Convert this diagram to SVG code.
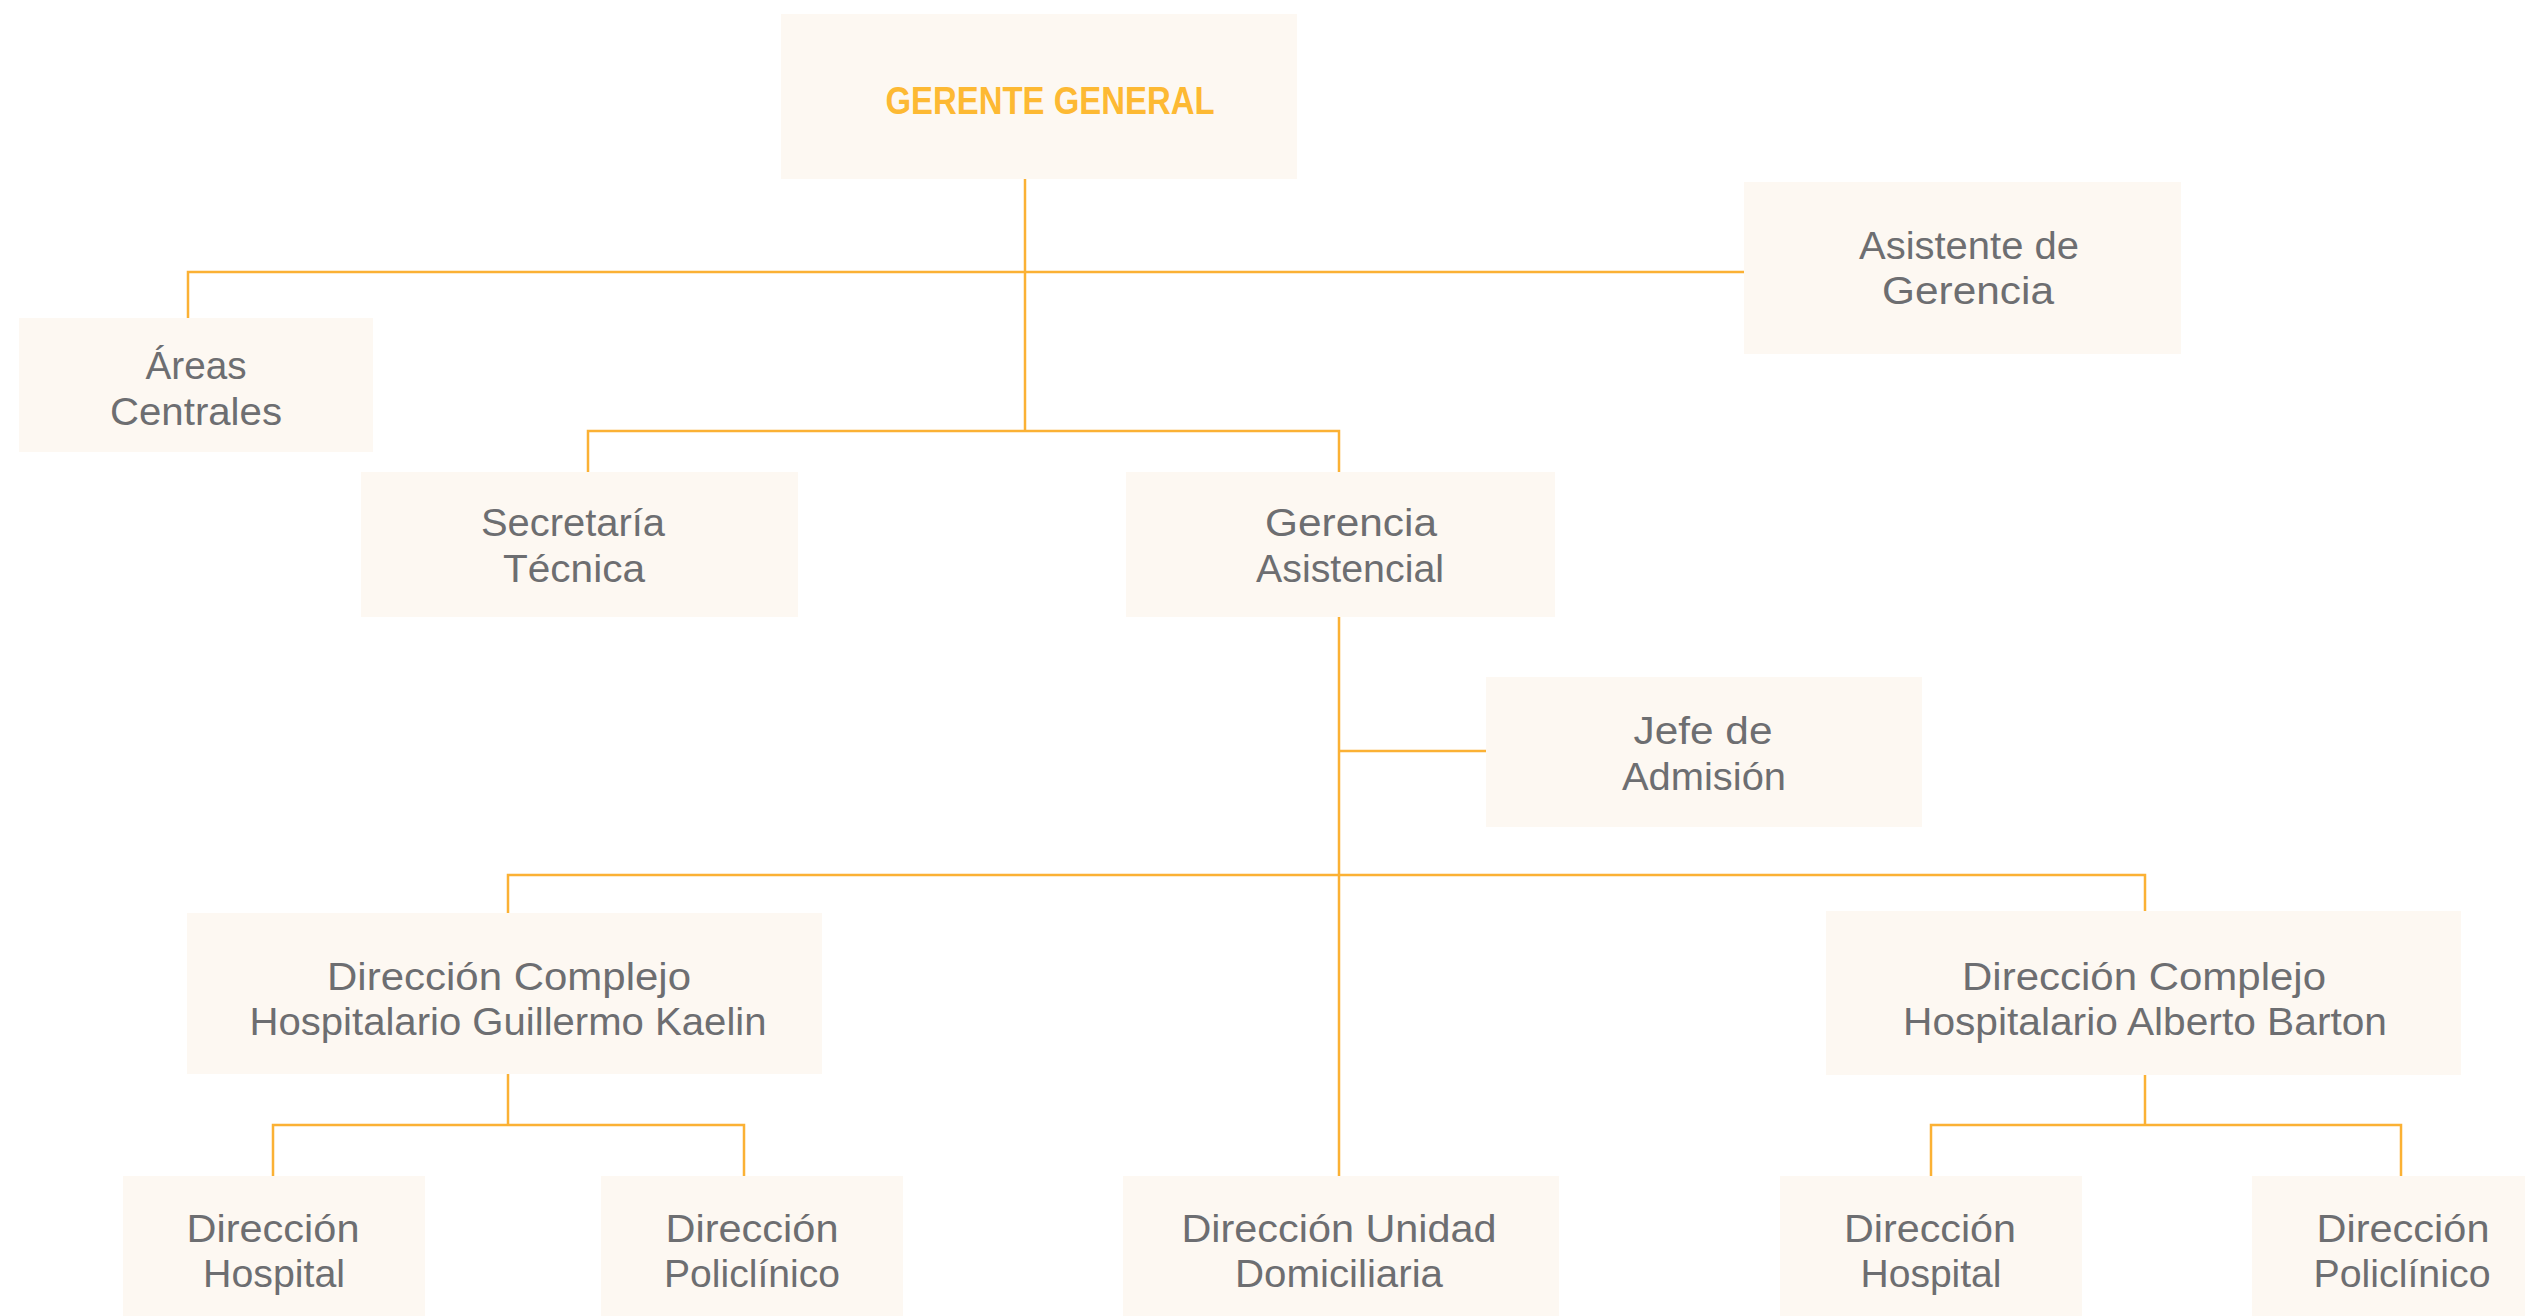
<svg xmlns="http://www.w3.org/2000/svg" width="2525" height="1316" viewBox="0 0 2525 1316">
<style>
.box{fill:#fdf8f2}
.t{font-family:"Century Gothic","Liberation Sans",Arial,sans-serif;font-size:38px;fill:#6d6e71;text-anchor:middle}
.title{font-family:"Century Gothic","Liberation Sans",Arial,sans-serif;font-size:38px;font-weight:bold;fill:#fdb933;text-anchor:middle}
.c{stroke:#fbb134;stroke-width:2.5;fill:none}
</style>
<rect width="2525" height="1316" fill="#ffffff"/>
<g id="connectors" class="c">
<path d="M1025 179V431"/>
<path d="M188 318V272H1744"/>
<path d="M588 472V431H1339V472"/>
<path d="M1339 617V1176"/>
<path d="M1339 751H1486"/>
<path d="M508 913V875H2145V911"/>
<path d="M508 1074V1125"/>
<path d="M273 1176V1125H744V1176"/>
<path d="M2145 1075V1125"/>
<path d="M1931 1176V1125H2401V1176"/>
</g>
<g id="gerente-general">
<rect class="box" x="781" y="14" width="516" height="165"/>
<text class="title" x="1050" y="114" textLength="329" lengthAdjust="spacingAndGlyphs">GERENTE GENERAL</text>
</g>
<g id="areas-centrales">
<rect class="box" x="19" y="318" width="354" height="134"/>
<text class="t" x="196" y="379" textLength="101" lengthAdjust="spacingAndGlyphs">Áreas</text>
<text class="t" x="196" y="425" textLength="172" lengthAdjust="spacingAndGlyphs">Centrales</text>
</g>
<g id="asistente-gerencia">
<rect class="box" x="1744" y="182" width="437" height="172"/>
<text class="t" x="1969" y="259" textLength="220" lengthAdjust="spacingAndGlyphs">Asistente de</text>
<text class="t" x="1968" y="304" textLength="172" lengthAdjust="spacingAndGlyphs">Gerencia</text>
</g>
<g id="secretaria-tecnica">
<rect class="box" x="361" y="472" width="437" height="145"/>
<text class="t" x="573" y="536" textLength="184" lengthAdjust="spacingAndGlyphs">Secretaría</text>
<text class="t" x="574" y="582" textLength="142" lengthAdjust="spacingAndGlyphs">Técnica</text>
</g>
<g id="gerencia-asistencial">
<rect class="box" x="1126" y="472" width="429" height="145"/>
<text class="t" x="1351" y="536" textLength="172" lengthAdjust="spacingAndGlyphs">Gerencia</text>
<text class="t" x="1350" y="582" textLength="188" lengthAdjust="spacingAndGlyphs">Asistencial</text>
</g>
<g id="jefe-admision">
<rect class="box" x="1486" y="677" width="436" height="150"/>
<text class="t" x="1703" y="744" textLength="139" lengthAdjust="spacingAndGlyphs">Jefe de</text>
<text class="t" x="1704" y="790" textLength="164" lengthAdjust="spacingAndGlyphs">Admisión</text>
</g>
<g id="complejo-kaelin">
<rect class="box" x="187" y="913" width="635" height="161"/>
<text class="t" x="509" y="990" textLength="364" lengthAdjust="spacingAndGlyphs">Dirección Complejo</text>
<text class="t" x="508" y="1035" textLength="517" lengthAdjust="spacingAndGlyphs">Hospitalario Guillermo Kaelin</text>
</g>
<g id="complejo-barton">
<rect class="box" x="1826" y="911" width="635" height="164"/>
<text class="t" x="2144" y="990" textLength="364" lengthAdjust="spacingAndGlyphs">Dirección Complejo</text>
<text class="t" x="2145" y="1035" textLength="484" lengthAdjust="spacingAndGlyphs">Hospitalario Alberto Barton</text>
</g>
<g id="hospital-kaelin">
<rect class="box" x="123" y="1176" width="302" height="140"/>
<text class="t" x="273" y="1242" textLength="173" lengthAdjust="spacingAndGlyphs">Dirección</text>
<text class="t" x="274" y="1287" textLength="142" lengthAdjust="spacingAndGlyphs">Hospital</text>
</g>
<g id="policlinico-kaelin">
<rect class="box" x="601" y="1176" width="302" height="140"/>
<text class="t" x="752" y="1242" textLength="173" lengthAdjust="spacingAndGlyphs">Dirección</text>
<text class="t" x="752" y="1287" textLength="176" lengthAdjust="spacingAndGlyphs">Policlínico</text>
</g>
<g id="unidad-domiciliaria">
<rect class="box" x="1123" y="1176" width="436" height="140"/>
<text class="t" x="1339" y="1242" textLength="315" lengthAdjust="spacingAndGlyphs">Dirección Unidad</text>
<text class="t" x="1339" y="1287" textLength="208" lengthAdjust="spacingAndGlyphs">Domiciliaria</text>
</g>
<g id="hospital-barton">
<rect class="box" x="1780" y="1176" width="302" height="140"/>
<text class="t" x="1930" y="1242" textLength="172" lengthAdjust="spacingAndGlyphs">Dirección</text>
<text class="t" x="1931" y="1287" textLength="141" lengthAdjust="spacingAndGlyphs">Hospital</text>
</g>
<g id="policlinico-barton">
<rect class="box" x="2252" y="1176" width="302" height="140"/>
<text class="t" x="2403" y="1242" textLength="173" lengthAdjust="spacingAndGlyphs">Dirección</text>
<text class="t" x="2402" y="1287" textLength="177" lengthAdjust="spacingAndGlyphs">Policlínico</text>
</g>
</svg>
